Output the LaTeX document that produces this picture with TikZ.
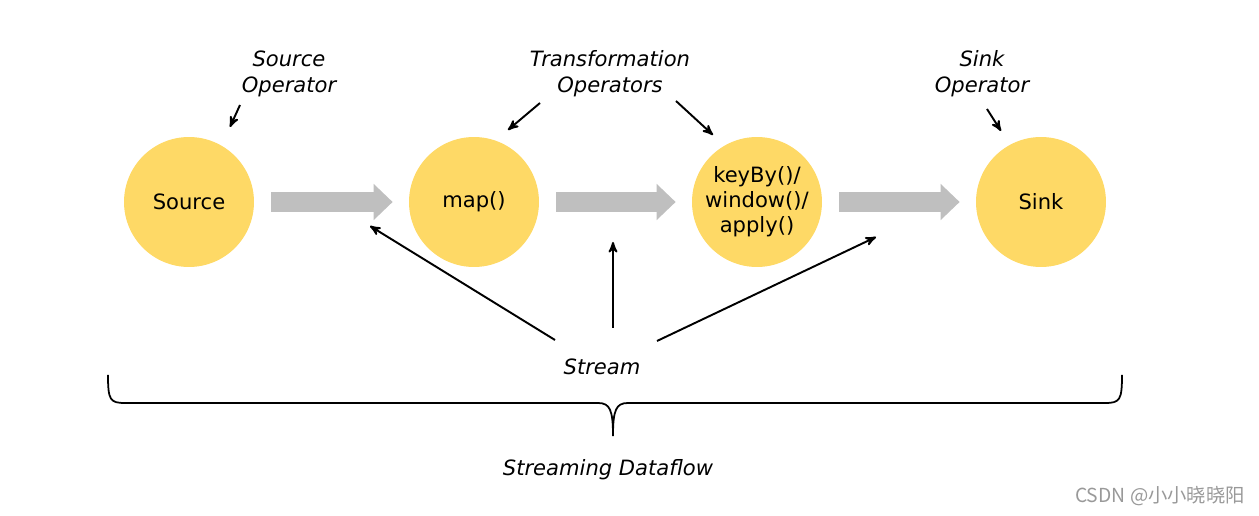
\documentclass[tikz,border=0pt]{standalone}
\usepackage{fontspec}
\setmainfont{DejaVu Sans}
\newfontfamily\cjk{Noto Sans CJK SC}
\usepackage{tikz}
\usetikzlibrary{arrows,arrows.meta}
\definecolor{opyellow}{HTML}{FED966}
\definecolor{flowgray}{HTML}{BFBFBF}
\tikzset{
  opnode/.style = {circle, fill=opyellow, minimum size=2.6cm, inner sep=0pt,
    align=center, font=\fontsize{12}{14.3}\selectfont},% operator
  tag/.style = {align=center, font=\fontsize{12}{14.6}\selectfont\itshape},
  flow/.style = {draw=flowgray, line width=0.4cm,
    -{Triangle[length=0.38cm, width=0.7cm]}, shorten <=0.34cm, shorten >=0.32cm},
  ptr/.style = {->, >=stealth', line width=1.1pt}
}
\begin{document}
\begin{tikzpicture}[x=0.02cm, y=-0.02cm]
\useasboundingbox (0,0) rectangle (1259,516);
% operators
\node [opnode] (src) at (189,202) {Source};
\node [opnode] (map) at (474,202) {map()};
\node [opnode] (win) at (757,202) {keyBy()/\\window()/\\apply()};
\node [opnode] (sink) at (1041,202) {Sink};
% data flow
\draw [flow] (src) -- (map);
\draw [flow] (map) -- (win);
\draw [flow] (win) -- (sink);
% labels
\node [tag] (srcop) at (289,74) {Source\\Operator};
\node [tag] (trop) at (610,74) {Transformation\\Operators};
\node [tag] (sinkop) at (982,74) {Sink\\Operator};
\node [tag] (stream) at (602,367) {Stream};
\node [tag] (dataflow) at (608,470) {Streaming Dataflow};
\node [text=gray!80, font=\cjk\fontsize{11}{13}\selectfont] (mark) at (1160,496)
  {CSDN @小小晓晓阳};
% pointer ends
\coordinate (p1) at (240,105); \coordinate (q1) at (230,127);
\coordinate (p2) at (540,103); \coordinate (q2) at (508,130);
\coordinate (p3) at (676,101); \coordinate (q3) at (713,135);
\coordinate (p4) at (987,109); \coordinate (q4) at (1001,131);
\coordinate (s1) at (555,340); \coordinate (t1) at (370,226);
\coordinate (s2) at (613,328); \coordinate (t2) at (613,242);
\coordinate (s3) at (657,341); \coordinate (t3) at (876,237);
\draw [ptr] (p1) -- (q1);
\draw [ptr] (p2) -- (q2);
\draw [ptr] (p3) -- (q3);
\draw [ptr] (p4) -- (q4);
\draw [ptr] (s1) -- (t1);
\draw [ptr] (s2) -- (t2);
\draw [ptr] (s3) -- (t3);
% brace
\draw [line width=1pt] (108,375) .. controls (108,400) and (110,403) .. (125,403)
  -- (598,403) .. controls (610,403) and (613,410) .. (613,436)
  .. controls (613,410) and (616,403) .. (628,403)
  -- (1105,403) .. controls (1120,403) and (1122,400) .. (1122,375);
\end{tikzpicture}
\end{document}
